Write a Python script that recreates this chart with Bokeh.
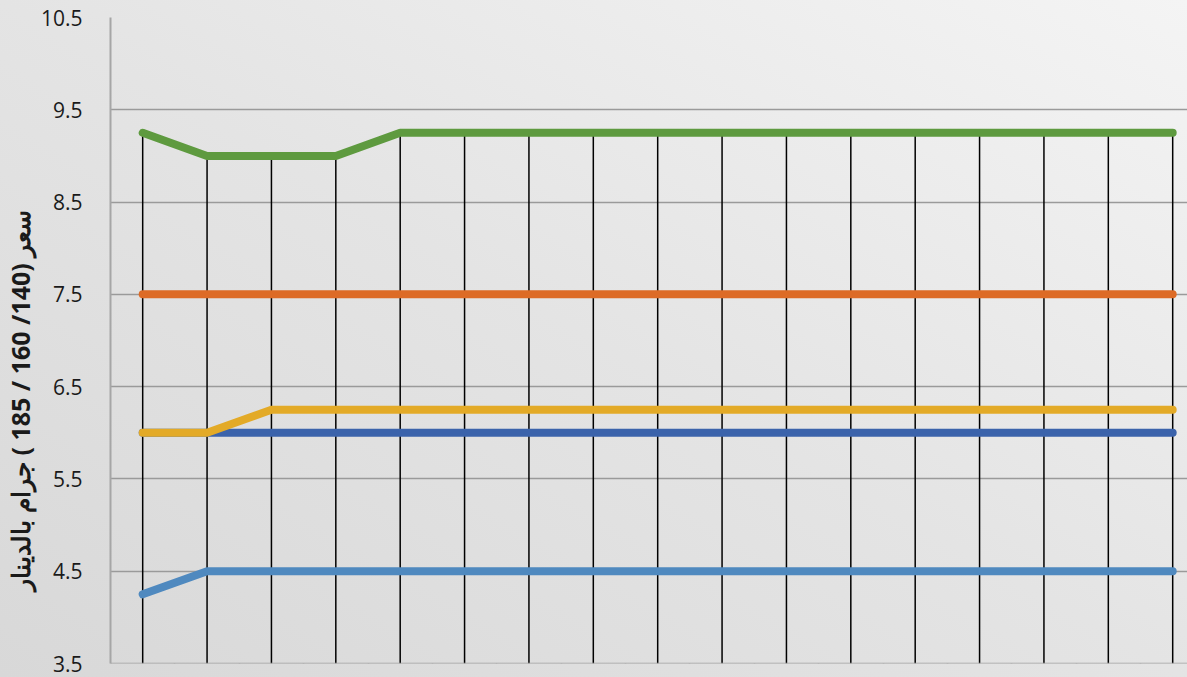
from bokeh.plotting import figure
from bokeh.models import Range1d, FixedTicker, Title
from bokeh.embed import file_html
from bokeh.resources import INLINE

# ---- data ----
dates = ["12/03", "13/03", "14/03", "17/03", "18/03", "19/03", "20/03", "21/03", "24/03",
         "25/03", "26/03", "27/03", "28/03", "31/03", "01/04", "02/04", "03/04"]
green = [9.25, 9.0, 9.0, 9.0, 9.25, 9.25, 9.25, 9.25, 9.25, 9.25, 9.25, 9.25, 9.25, 9.25, 9.25, 9.25, 9.25]
orange = [7.5, 7.5, 7.5, 7.5, 7.5, 7.5, 7.5, 7.5, 7.5, 7.5, 7.5, 7.5, 7.5, 7.5, 7.5, 7.5, 7.5]
yellow = [6.0, 6.0, 6.25, 6.25, 6.25, 6.25, 6.25, 6.25, 6.25, 6.25, 6.25, 6.25, 6.25, 6.25, 6.25, 6.25, 6.25]
darkblue = [6.0, 6.0, 6.0, 6.0, 6.0, 6.0, 6.0, 6.0, 6.0, 6.0, 6.0, 6.0, 6.0, 6.0, 6.0, 6.0, 6.0]
lightblue = [4.25, 4.5, 4.5, 4.5, 4.5, 4.5, 4.5, 4.5, 4.5, 4.5, 4.5, 4.5, 4.5, 4.5, 4.5, 4.5, 4.5]
y_ticks = [3.5, 4.5, 5.5, 6.5, 7.5, 8.5, 9.5, 10.5]
y_title = "\u202bسعر (140/ 160 / 185 ) جرام بالدينار\u202c"

# ---- layout ----
n = len(dates)
xs = [i + 0.5 for i in range(n)]
y_min, y_max = 3.5, 10.5

p = figure(width=1187, height=677, output_backend="svg", toolbar_location=None,
           x_range=Range1d(0, 16.73), y_range=Range1d(y_min, y_max),
           min_border_left=110, min_border_right=0, min_border_top=17, min_border_bottom=14)
p.background_fill_color = None
p.border_fill_color = None
p.outline_line_color = None
p.styles = {"background": "linear-gradient(to top right, #d8d8d8 0%, #e4e4e4 50%, #f4f4f4 100%)"}

# grid
p.xgrid.visible = False
p.ygrid.ticker = FixedTicker(ticks=y_ticks)
p.ygrid.grid_line_color = "#9a9a9a"
p.ygrid.grid_line_width = 1.5

# y axis
p.yaxis.ticker = FixedTicker(ticks=y_ticks)
p.yaxis.axis_line_color = "#a6a6a6"
p.yaxis.axis_line_width = 2
p.yaxis.major_tick_line_color = None
p.yaxis.minor_tick_line_color = None
p.yaxis.major_label_standoff = 22
p.yaxis.major_label_text_font = "Open Sans"
p.yaxis.major_label_text_font_size = "21px"
p.yaxis.major_label_text_color = "#1a1a1a"

# x axis (category boxes)
p.xaxis.fixed_location = y_min
p.xaxis.ticker = FixedTicker(ticks=xs, minor_ticks=list(range(n + 1)))
p.xaxis.major_label_overrides = {x: d for x, d in zip(xs, dates)}
p.xaxis.axis_line_color = "#a0a0a0"
p.xaxis.axis_line_width = 1.5
p.xaxis.major_tick_line_color = None
p.xaxis.minor_tick_line_color = "#a0a0a0"
p.xaxis.minor_tick_line_width = 1.5
p.xaxis.minor_tick_in = 0
p.xaxis.minor_tick_out = 25
p.xaxis.major_label_standoff = 1
p.xaxis.major_label_text_font = "Open Sans"
p.xaxis.major_label_text_font_size = "19px"
p.xaxis.major_label_text_color = "#1a1a1a"

# drop lines
p.segment(x0=xs, y0=green, x1=xs, y1=[y_min] * n, line_color="black", line_width=1.5)

# series
for ys, col in [(lightblue, "#4f89bf"), (darkblue, "#3b63ab"), (yellow, "#e3aa27"),
                (orange, "#dd6b26"), (green, "#5e9a3f")]:
    p.line(xs, ys, line_width=8, line_color=col, line_cap="round", line_join="round")

# y axis title
p.add_layout(Title(text=y_title, align="left", offset=73, vertical_align="middle",
                   text_font="Open Sans", text_font_style="bold", text_font_size="25px",
                   text_color="#1a1a1a", standoff=0), "left")

open("out.html", "w").write(file_html(p, INLINE))
